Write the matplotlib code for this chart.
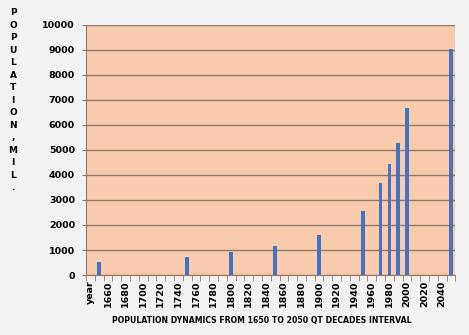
import numpy as np
import matplotlib
matplotlib.use("Agg")
import matplotlib.pyplot as plt

# categories: a "year" header slot then every decade 1650..2050
categories = ["year"] + [str(y) for y in range(1650, 2060, 10)]

# world population (millions) for the decades that have a value
pop_years = ["1650", "1750", "1800", "1850", "1900", "1950",
             "1970", "1980", "1990", "2000", "2050"]
pop_values = [540, 720, 920, 1150, 1590, 2560,
              3680, 4440, 5290, 6670, 9050]

ylabel_text = "POPULATION,MIL."
xlabel_text = "POPULATION DYNAMICS FROM 1650 TO 2050 QT DECADES INTERVAL"

values = [0.0] * len(categories)
for yr, v in zip(pop_years, pop_values):
    values[categories.index(yr)] = v

fig = plt.figure(figsize=(4.69, 3.35), dpi=100, facecolor="#f2f2f2")
ax = fig.add_axes([0.1834, 0.1791, 0.7876, 0.7463])
ax.set_facecolor("#f8cbad")

x = np.arange(len(categories))
ax.bar(x, values, width=0.42, color="#4472c4", zorder=3)

ax.set_xlim(-0.5, len(categories) - 0.5)
ax.set_ylim(0, 10000)
ax.set_yticks(range(0, 10001, 1000))
ax.grid(axis="y", color="#96786a", linewidth=1.0, zorder=1)

# tick marks on category boundaries, labels on every other category
ax.set_xticks(np.arange(len(categories) + 1) - 0.5, minor=True)
ax.set_xticks(x[::2])
ax.set_xticklabels(categories[::2], rotation=90, fontsize=6.8,
                   fontweight="bold")
ax.tick_params(axis="x", which="major", length=0, pad=4)
ax.tick_params(axis="x", which="minor", length=4, color="#96786a")
ax.tick_params(axis="y", length=3, color="#96786a", labelsize=6.8, pad=5)
for lbl in ax.get_yticklabels():
    lbl.set_fontweight("bold")

for side in ["top", "right"]:
    ax.spines[side].set_visible(False)
for side in ["left", "bottom"]:
    ax.spines[side].set_color("#96786a")

# vertical stacked axis title
for i, ch in enumerate(ylabel_text):
    fig.text(13 / 469, 1 - (12.7 + 12.5 * i) / 335, ch, ha="center",
             va="center", fontsize=6.5, fontweight="bold")

fig.text(262 / 469, 1 - 320 / 335, xlabel_text, ha="center", va="center",
         fontsize=5.6, fontweight="bold")

fig.savefig("out.png", dpi=100, facecolor=fig.get_facecolor())
